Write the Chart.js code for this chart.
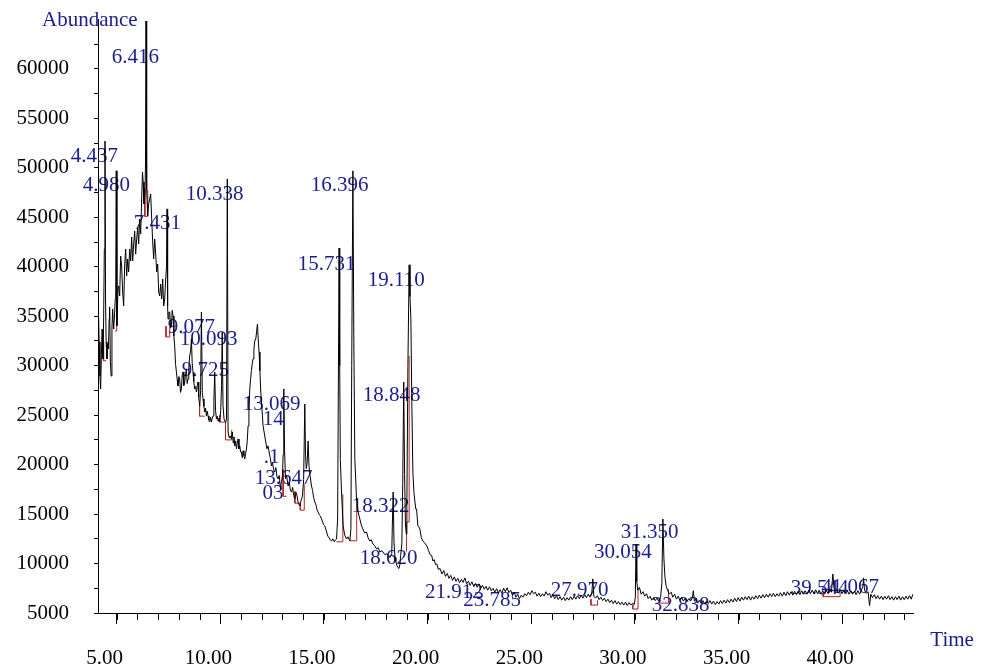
<!DOCTYPE html>
<html>
<head>
<meta charset="utf-8">
<script src="https://cdn.jsdelivr.net/npm/chart.js@4.4.0/dist/chart.umd.min.js"></script>
<style>
    html, body { margin: 0; padding: 0; background: #fff; }
    #tic { display: block; }
</style>
</head>
<body>
<canvas id="tic" width="989" height="672"></canvas>
<script>
// 축 눈금
const xTicks = [5, 10, 15, 20, 25, 30, 35, 40];
const xMinorTicks = [5, 6, 7, 8, 9, 10, 11, 12, 13, 14, 15, 16, 17, 18, 19, 20, 21, 22, 23, 24,
    25, 26, 27, 28, 29, 30, 31, 32, 33, 34, 35, 36, 37, 38, 39, 40, 41, 42, 43];
const yTicks = [5000, 7500, 10000, 12500, 15000, 17500, 20000, 22500, 25000, 27500, 30000,
    32500, 35000, 37500, 40000, 42500, 45000, 47500, 50000, 52500, 55000, 57500, 60000, 62500];
const yTickLabels = [5000, 10000, 15000, 20000, 25000, 30000, 35000, 40000, 45000, 50000, 55000, 60000];

// TIC 크로마토그램 [시간(min), abundance]
const traceFront = [
    [4.107, 37050], [4.155, 32400], [4.194, 28960], [4.228, 27650], [4.266, 31390], [4.300, 33710],
    [4.339, 30680], [4.372, 34720], [4.406, 41800], [4.437, 52700], [4.464, 36750], [4.493, 32400],
    [4.532, 30680], [4.566, 32200], [4.604, 31690], [4.638, 34720], [4.662, 35940], [4.696, 30380],
    [4.734, 28960], [4.773, 33710], [4.807, 35730], [4.855, 33710], [4.894, 34930], [4.932, 36750],
    [4.955, 38500], [4.980, 49700], [5.014, 34020], [5.063, 37760], [5.097, 38060], [5.145, 37050],
    [5.193, 41090], [5.241, 40080], [5.290, 37450], [5.338, 36040], [5.386, 40080], [5.434, 41800],
    [5.483, 39070], [5.531, 40790], [5.579, 39480], [5.628, 41800], [5.676, 40590], [5.724, 43010],
    [5.772, 40590], [5.821, 42310], [5.869, 43620], [5.917, 41290], [5.966, 42810], [6.014, 44020],
    [6.062, 42310], [6.110, 44830], [6.159, 43310], [6.207, 46860], [6.246, 49590], [6.279, 48570],
    [6.318, 46350], [6.366, 47360], [6.392, 50500], [6.416, 64850], [6.437, 51000], [6.458, 47870],
    [6.497, 45140], [6.545, 46350], [6.593, 46860], [6.641, 47360], [6.690, 44830], [6.738, 42510],
    [6.786, 40790], [6.834, 42810], [6.883, 41290], [6.931, 39480], [6.979, 40280], [7.028, 37450],
    [7.076, 37050], [7.124, 38260], [7.172, 36750], [7.221, 38770], [7.269, 36040], [7.317, 36750],
    [7.366, 38770], [7.405, 40000], [7.431, 45850], [7.458, 36000], [7.477, 34720]
];
const traceMid = [
    [7.520, 35430], [7.559, 35430], [7.600, 33800], [7.641, 34020], [7.680, 35600], [7.718, 35030],
    [7.760, 33000], [7.800, 31990], [7.840, 30200], [7.882, 29370], [7.920, 28600], [7.959, 27950],
    [8.000, 28900], [8.041, 28660], [8.080, 27300], [8.123, 27650], [8.160, 29000], [8.201, 29370],
    [8.240, 28000], [8.283, 28350], [8.320, 29200], [8.365, 29670], [8.400, 28200], [8.442, 28660],
    [8.480, 29800], [8.524, 30980], [8.566, 31500], [8.606, 32700], [8.645, 30200], [8.683, 29370],
    [8.720, 28400], [8.766, 27650], [8.810, 27900], [8.848, 27340], [8.890, 28000], [8.925, 28350],
    [8.960, 26800], [9.007, 25930], [9.050, 27500], [9.089, 35430], [9.130, 27300], [9.166, 26640],
    [9.210, 25900], [9.248, 25320], [9.290, 25700], [9.331, 24920], [9.370, 25400], [9.408, 24920],
    [9.450, 24500], [9.490, 24310], [9.530, 24800], [9.572, 24310], [9.610, 24700], [9.649, 24920],
    [9.690, 26500], [9.731, 29370], [9.770, 25500], [9.813, 24610], [9.850, 24900], [9.890, 24400],
    [9.930, 24700], [9.972, 24310], [10.020, 25500], [10.060, 28000], [10.093, 33400], [10.130, 26000],
    [10.180, 24610], [10.250, 24200], [10.300, 24610], [10.338, 48880], [10.375, 23300], [10.430, 22700],
    [10.480, 22900], [10.537, 22590], [10.580, 23300], [10.620, 22200], [10.660, 22800], [10.697, 21880],
    [10.740, 22400], [10.780, 21600], [10.820, 22200], [10.856, 22590], [10.900, 21600], [10.940, 21900],
    [10.980, 21280], [11.020, 21280], [11.060, 20700], [11.100, 21400], [11.140, 20900], [11.179, 20570],
    [11.220, 21100], [11.261, 21580], [11.300, 22400], [11.339, 23910], [11.380, 25200], [11.421, 27650],
    [11.460, 28600], [11.500, 29500], [11.540, 30200], [11.580, 30680], [11.620, 31600], [11.660, 32500],
    [11.710, 32700], [11.750, 33400], [11.792, 34220], [11.830, 32600], [11.870, 31390], [11.910, 29500],
    [11.952, 27340], [12.000, 26000], [12.063, 23910], [12.120, 23200], [12.193, 22290], [12.250, 21600],
    [12.300, 21900], [12.352, 21280], [12.410, 20700], [12.468, 19860], [12.520, 20200], [12.570, 19500],
    [12.628, 19260], [12.680, 19700], [12.730, 18800], [12.787, 18550], [12.840, 18900], [12.903, 17540],
    [12.950, 18300], [12.999, 18850], [13.030, 21000], [13.062, 27650], [13.100, 21500], [13.144, 18550],
    [13.200, 18900], [13.270, 17840], [13.330, 18200], [13.380, 17400], [13.434, 17230], [13.490, 17700],
    [13.540, 16900], [13.593, 16530], [13.650, 17200], [13.704, 16830], [13.760, 16100], [13.835, 15820],
    [13.900, 16400], [13.965, 16830], [14.020, 18500], [14.076, 26130], [14.110, 21000], [14.149, 19600],
    [14.190, 20200], [14.235, 22390], [14.280, 19800], [14.330, 18900], [14.399, 17840], [14.450, 17400],
    [14.500, 16700], [14.559, 16220], [14.620, 15900], [14.670, 15400], [14.718, 15210], [14.780, 14900],
    [14.830, 14800], [14.882, 14500], [14.940, 14200], [14.990, 13900], [15.041, 13800], [15.100, 13400],
    [15.186, 12780], [15.250, 12600], [15.300, 12400], [15.365, 12280], [15.430, 12500], [15.500, 12200],
    [15.560, 12400], [15.607, 12480]
];
const traceLate = [
    [15.660, 14500], [15.700, 30000], [15.731, 41900], [15.760, 30000], [15.790, 20500], [15.848, 17230],
    [15.925, 13800], [16.000, 12900], [16.089, 12480], [16.160, 12700], [16.248, 12280], [16.300, 13500],
    [16.340, 30000], [16.396, 49700], [16.440, 33000], [16.490, 20570], [16.572, 16530], [16.650, 15200],
    [16.731, 14500], [16.800, 13900], [16.876, 13490], [16.960, 13100], [17.054, 13190], [17.130, 12600],
    [17.214, 12280], [17.280, 12400], [17.359, 11980], [17.450, 11800], [17.537, 11470], [17.620, 11600],
    [17.697, 11170], [17.800, 11300], [17.938, 10900], [18.050, 11000], [18.179, 10600], [18.270, 11000],
    [18.300, 14000], [18.339, 17230], [18.380, 12000], [18.430, 10600], [18.469, 10200], [18.520, 9800],
    [18.565, 9600], [18.620, 9500], [18.662, 9900], [18.700, 10800], [18.758, 12000], [18.800, 18000],
    [18.848, 28350], [18.890, 19000], [18.930, 14000], [18.970, 13000], [19.000, 16000], [19.050, 30000],
    [19.110, 40200], [19.150, 37000], [19.193, 34800], [19.240, 26000], [19.290, 19260], [19.340, 17200],
    [19.386, 16300], [19.430, 15500], [19.468, 15510], [19.531, 13800], [19.580, 13700], [19.628, 13490],
    [19.700, 12600], [19.772, 12280], [19.850, 12100], [19.966, 11770], [20.050, 11300], [20.120, 10900],
    [20.200, 10800], [20.255, 10260], [20.320, 10400], [20.380, 9900], [20.448, 9950], [20.520, 9400],
    [20.600, 9500]
];
const traceTail = [
    [20.69, 8940], [20.78, 9300], [20.86, 8700], [20.95, 9000], [21.03, 8500], [21.12, 8800],
    [21.20, 8300], [21.29, 8650], [21.37, 8200], [21.46, 8500], [21.54, 8050], [21.63, 8400],
    [21.71, 8100], [21.80, 8550], [21.88, 7950], [21.97, 8200], [22.05, 7800], [22.14, 8150],
    [22.22, 7700], [22.31, 8000], [22.39, 7600], [22.48, 7950], [22.56, 7500], [22.65, 7800],
    [22.73, 7400], [22.82, 7700], [22.90, 7300], [22.99, 7650], [23.07, 7250], [23.16, 7500],
    [23.24, 7100], [23.33, 7450], [23.41, 7050], [23.50, 7350], [23.58, 7000], [23.67, 7500],
    [23.75, 7150], [23.84, 7550], [23.92, 7050], [24.01, 7300], [24.09, 6800], [24.18, 7100],
    [24.26, 6600], [24.35, 6900], [24.43, 6450], [24.52, 6800], [24.60, 6600], [24.69, 6950],
    [24.77, 6750], [24.86, 7100], [24.94, 6850], [25.03, 7250], [25.11, 6950], [25.20, 7100],
    [25.28, 6700], [25.37, 7000], [25.45, 6650], [25.54, 6950], [25.62, 6700], [25.71, 7150],
    [25.79, 6800], [25.88, 7000], [25.96, 6550], [26.05, 6850], [26.13, 6450], [26.22, 6750],
    [26.30, 6350], [26.39, 6650], [26.47, 6300], [26.56, 6600], [26.64, 6250], [26.73, 6550],
    [26.81, 6300], [26.90, 6650], [26.98, 6350], [27.07, 6700], [27.15, 6400], [27.24, 6750],
    [27.32, 6450], [27.41, 6800], [27.49, 6500], [27.58, 6850], [27.66, 6550], [27.75, 6900],
    [27.83, 6600], [27.92, 7000], [27.97, 8450], [28.02, 6700], [28.10, 6500], [28.19, 6750],
    [28.27, 6350], [28.36, 6600], [28.44, 6250], [28.53, 6500], [28.61, 6150], [28.70, 6400],
    [28.78, 6050], [28.87, 6300], [28.95, 5950], [29.04, 6250], [29.12, 5900], [29.21, 6150],
    [29.29, 5850], [29.38, 6100], [29.46, 5800], [29.55, 6100], [29.63, 5750], [29.72, 6050],
    [29.80, 5800], [29.89, 6000], [29.97, 5850], [30.02, 6600], [30.054, 11900], [30.09, 8200],
    [30.14, 7300], [30.22, 7600], [30.30, 6900], [30.39, 7150], [30.47, 6700], [30.56, 6950],
    [30.64, 6450], [30.73, 6700], [30.81, 6300], [30.90, 6550], [30.98, 6250], [31.07, 6500],
    [31.15, 6200], [31.24, 6600], [31.30, 8000], [31.35, 14500], [31.40, 10500], [31.45, 8600],
    [31.51, 7700], [31.58, 7300], [31.66, 6900], [31.75, 7100], [31.83, 6600], [31.92, 6900],
    [32.00, 6400], [32.09, 6700], [32.17, 6300], [32.26, 6600], [32.34, 6200], [32.43, 6500],
    [32.51, 6150], [32.60, 6450], [32.68, 6200], [32.77, 6500], [32.82, 7250], [32.87, 6200],
    [32.94, 6400], [33.03, 6000], [33.11, 6300], [33.20, 5950], [33.28, 6250], [33.37, 5900],
    [33.45, 6200], [33.54, 5950], [33.62, 6250], [33.71, 5900], [33.79, 6200], [33.88, 5850],
    [33.96, 6150], [34.05, 5900], [34.13, 6250], [34.22, 5950], [34.30, 6300], [34.39, 6000],
    [34.47, 6350], [34.56, 6050], [34.64, 6400], [34.73, 6100], [34.81, 6500], [34.90, 6150],
    [34.98, 6550], [35.07, 6200], [35.15, 6600], [35.24, 6300], [35.32, 6650], [35.41, 6350],
    [35.49, 6700], [35.58, 6300], [35.66, 6650], [35.75, 6400], [35.83, 6750], [35.92, 6450],
    [36.00, 6800], [36.09, 6500], [36.17, 6850], [36.26, 6550], [36.34, 6900], [36.43, 6600],
    [36.51, 6950], [36.60, 6650], [36.68, 7000], [36.77, 6650], [36.85, 6950], [36.94, 6700],
    [37.02, 7050], [37.11, 6700], [37.19, 7100], [37.28, 6750], [37.36, 7150], [37.45, 6800],
    [37.53, 7150], [37.62, 6800], [37.70, 7200], [37.79, 6850], [37.87, 7200], [37.96, 6850],
    [38.04, 7250], [38.13, 6900], [38.21, 7250], [38.30, 6900], [38.38, 7300], [38.47, 6950],
    [38.55, 7300], [38.64, 6950], [38.72, 7350], [38.81, 6950], [38.89, 7300], [38.98, 6900],
    [39.06, 7250], [39.15, 6900], [39.23, 7300], [39.32, 6950], [39.40, 7350], [39.48, 7100],
    [39.55, 8950], [39.60, 7600], [39.66, 7200], [39.74, 7400], [39.82, 7000], [39.91, 7350],
    [39.99, 6950], [40.08, 7300], [40.16, 6950], [40.25, 7250], [40.33, 6900], [40.42, 7250],
    [40.50, 6900], [40.59, 7200], [40.67, 6850], [40.76, 7250], [40.84, 6900], [40.93, 7300],
    [41.00, 7700], [41.03, 8550], [41.08, 7300], [41.16, 7000], [41.25, 7150], [41.32, 5750],
    [41.38, 6900], [41.46, 6550], [41.55, 6850], [41.63, 6450], [41.72, 6750], [41.80, 6400],
    [41.89, 6700], [41.97, 6350], [42.06, 6700], [42.14, 6400], [42.23, 6750], [42.31, 6350],
    [42.40, 6650], [42.48, 6300], [42.57, 6650], [42.65, 6350], [42.74, 6700], [42.82, 6300],
    [42.91, 6650], [42.99, 6350], [43.08, 6700], [43.16, 6400], [43.25, 6750], [43.33, 6400],
    [43.41, 6900]
];

// 적분 베이스라인 표시 (빨간 선)
const integrationMarks = [
    [[4.37, 32400], [4.37, 30500], [4.50, 30500]],
    [[4.93, 33500], [5.00, 33500], [5.00, 36500]],
    [[6.36, 47900], [6.36, 45100], [6.50, 45100], [6.50, 47800]],
    [[7.38, 34000], [7.38, 32900], [7.56, 32900], [7.56, 34000]],
    [[9.00, 26000], [9.00, 24900], [9.25, 24900]],
    [[9.97, 25000], [9.97, 24300], [10.17, 24300]],
    [[10.25, 24300], [10.25, 22500], [10.55, 22500], [10.55, 23500]],
    [[13.03, 19500], [13.03, 16800], [13.20, 16800]],
    [[13.60, 17300], [13.60, 16100], [13.86, 16100], [13.86, 15400], [14.05, 15400], [14.05, 18000]],
    [[15.60, 12200], [15.91, 12200], [15.91, 17000]],
    [[16.25, 12300], [16.58, 12300], [16.58, 16000]],
    [[18.985, 11200], [18.985, 14200], [19.11, 14200], [19.11, 31000]],
    [[27.88, 6400], [27.88, 5800], [28.20, 5800], [28.20, 6300]],
    [[29.90, 5850], [29.90, 5400], [30.15, 5400], [30.15, 7500]],
    [[31.12, 6000], [31.62, 6000], [31.62, 7400]],
    [[39.08, 6950], [39.08, 6650], [39.90, 6650], [39.90, 7000]]
];

// 피크 라벨 (라벨 왼쪽 끝 시간, 라벨 중심 abundance)
const peakLabels = ['6.416', '4.437', '4.980', '10.338', '7.431', '16.396', '15.731', '19.110',
    '9.077', '10.093', '9.725', '13.069', '14', '18.848', '.1', '13.647', '03', '18.322', '18.620',
    '21.912', '23.785', '27.970', '30.054', '31.350', '32.838', '39.544', '41.067'];
const labelTime = [4.759, 2.78, 3.359, 8.331, 5.821, 14.366, 13.738, 17.117,
    7.462, 8.041, 8.138, 11.083, 12.048, 16.876, 12.097, 11.662, 12.03, 16.345, 16.73,
    19.869, 21.718, 25.937, 28.03, 29.316, 30.81, 37.52, 38.99];
const labelAbundance = [61210, 51200, 48270, 47360, 44330, 48270, 40280, 38570,
    33910, 32700, 29470, 26130, 24610, 26940, 20770, 18550, 17130, 15720, 10560,
    7120, 6240, 7250, 11140, 13090, 5740, 7500, 7530];

const serif = '"Liberation Serif", "Times New Roman", serif';
const labelBlue = '#1c1c8e';
const markRed = '#b22222';

Chart.defaults.font.family = serif;
Chart.defaults.font.size = 21;
Chart.defaults.color = '#000';

function toPoints(list) {
    return list.map(p => ({x: p[0], y: p[1]}));
}

const traceData = toPoints(traceFront.concat(traceMid, traceLate, traceTail));

const datasets = [{
    data: traceData,
    borderColor: '#000',
    borderWidth: 1,
    pointRadius: 0,
    tension: 0,
    order: 1
}];
integrationMarks.forEach(function (mark) {
    datasets.push({
        data: toPoints(mark),
        borderColor: markRed,
        borderWidth: 1,
        pointRadius: 0,
        tension: 0,
        order: 2
    });
});

// 라벨, 축 제목, 보조 눈금
const annotate = {
    id: 'annotate',
    beforeDatasetsDraw(chart) {
        const ctx = chart.ctx;
        const x = chart.scales.x;
        const y = chart.scales.y;
        ctx.save();
        ctx.font = '21px ' + serif;
        ctx.fillStyle = labelBlue;
        ctx.textBaseline = 'middle';
        ctx.textAlign = 'left';
        peakLabels.forEach(function (txt, i) {
            ctx.fillText(txt, x.getPixelForValue(labelTime[i]), y.getPixelForValue(labelAbundance[i]));
        });
        ctx.fillText('Abundance', chart.chartArea.left - 56, chart.chartArea.top + 1);
        ctx.fillText('Time', chart.chartArea.right + 17, x.top + 27);

        // 1분 간격 보조 눈금
        ctx.strokeStyle = '#000';
        ctx.lineWidth = 1;
        xMinorTicks.forEach(function (v) {
            const px = Math.round(x.getPixelForValue(v)) + 0.5;
            ctx.beginPath();
            ctx.moveTo(px, x.top);
            ctx.lineTo(px, x.top + 7);
            ctx.stroke();
        });
        ctx.restore();
    }
};

new Chart(document.getElementById('tic'), {
    type: 'line',
    data: {datasets: datasets},
    options: {
        responsive: false,
        animation: false,
        layout: {padding: {top: 19.5, right: 75.7, bottom: 0, left: 0}},
        plugins: {legend: {display: false}, tooltip: {enabled: false}},
        scales: {
            x: {
                type: 'linear',
                min: 4.10,
                max: 43.43,
                afterBuildTicks: function (scale) {
                    scale.ticks = xTicks.map(v => ({value: v}));
                },
                afterFit: function (scale) {
                    scale.height = 59;
                },
                grid: {drawOnChartArea: false, tickLength: 11, tickColor: '#000', color: '#000'},
                border: {color: '#000', width: 1},
                ticks: {
                    padding: 22,
                    labelOffset: -12,
                    maxRotation: 0,
                    autoSkip: false,
                    color: '#000',
                    callback: v => v.toFixed(2)
                }
            },
            y: {
                min: 5000,
                max: 65000,
                afterBuildTicks: function (scale) {
                    scale.ticks = yTicks.map(v => ({value: v}));
                },
                afterFit: function (scale) {
                    scale.width = 98;
                    // 라벨 여백이 위쪽 영역을 밀어내지 않도록
                    scale.paddingTop = 0;
                    scale.paddingBottom = 0;
                },
                grid: {drawOnChartArea: false, tickLength: 4, tickColor: '#000', color: '#000'},
                border: {color: '#000', width: 1},
                ticks: {
                    padding: 25,
                    autoSkip: false,
                    color: '#000',
                    callback: v => yTickLabels.includes(v) ? String(v) : ''
                }
            }
        }
    },
    plugins: [annotate]
});
</script>
</body>
</html>
